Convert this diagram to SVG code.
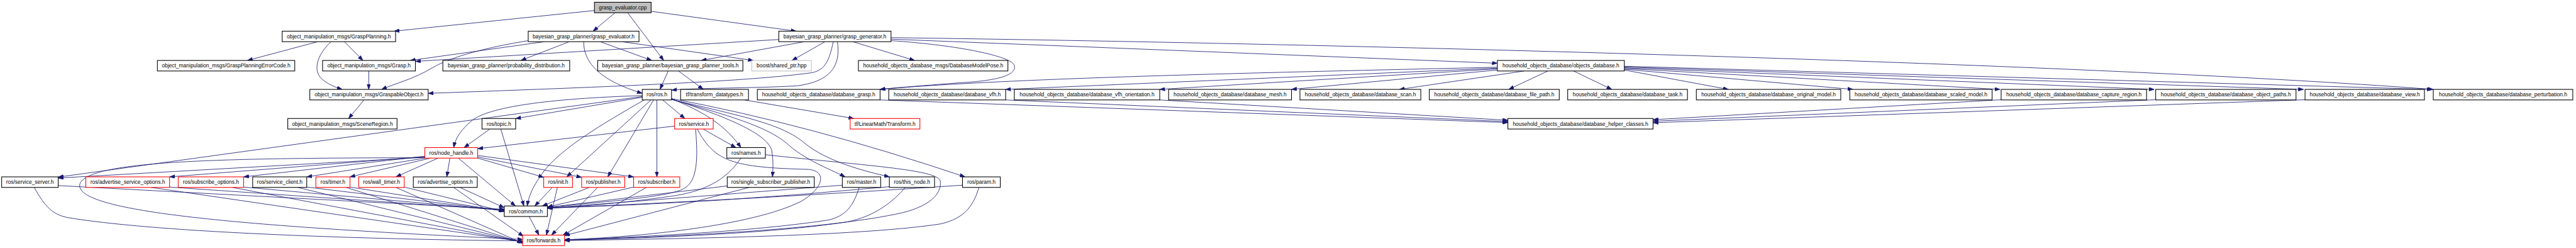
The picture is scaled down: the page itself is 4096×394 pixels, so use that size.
<svg xmlns="http://www.w3.org/2000/svg" width="4096" height="394" viewBox="0 0 4096 394">
<style>
.node rect{fill:#fff;stroke:#000;stroke-width:1.8}
.red rect{stroke:#f00}
.gray rect{stroke:#bfbfbf}
.root rect{fill:#bfbfbf}
.node text{font-family:"Liberation Sans",Arial,Helvetica,sans-serif;font-size:14.15px;text-anchor:middle;fill:#000}
#edges path{fill:none;stroke:#191970;stroke-width:1.4;marker-end:url(#arr)}
</style>
<defs>
<marker id="arr" markerUnits="userSpaceOnUse" markerWidth="14" markerHeight="10" viewBox="0 0 14 10" refX="14" refY="5" orient="auto">
<path d="M0,0 L14,5 L0,10 Z" fill="#191970" stroke="#191970" stroke-width="1"/>
</marker>
</defs>
<rect width="4096" height="394" fill="#fff"/>
<g transform="scale(0.598)">
<g id="edges">
<path d="M1580.6,28 L1048,82.8"/>
<path d="M1635.5,33.9 L1577,82.8"/>
<path d="M1668.9,33.9 L1764.7,160.6"/>
<path d="M1731.3,30 L2117,82.8"/>
<path d="M844.7,110.8 L658,160.6"/>
<path d="M915.8,110.8 L965,160.6"/>
<path d="M880.2,110.8 C848,140 828,185 856,210 C872,224 892,232 910,237.5"/>
<path d="M1447.9,110.8 L1091,160.6"/>
<path d="M1404.5,108 C1300,125 1200,150 1150,180 C1100,210 1050,222 1014.6,237.5"/>
<path d="M1513.7,110.8 L1385,160.6"/>
<path d="M1596,110.8 L1733,160.6"/>
<path d="M1653.5,110.8 L2003,160.6"/>
<path d="M1552,110.8 C1552,170 1600,215 1707.7,248"/>
<path d="M2070.8,105 L1104.5,163"/>
<path d="M2138.8,110.8 L1864.6,160.6"/>
<path d="M2193.7,110.8 L2105.9,160.6"/>
<path d="M2267.7,110.8 L2432,160.6"/>
<path d="M2215.6,110.8 C2205,160 2195,185 2160,193 C2000,215 1700,228 1138.5,248"/>
<path d="M2226.6,110.8 C2235,170 2215,215 2120,228 C2000,235 1850,233 1785.6,239.5"/>
<path d="M2369.2,108 C2550,120 2690,150 2697,173.6 C2705,200 2650,215 2550,220 C2450,228 2380,233 2340,237.5"/>
<path d="M2369.2,104 L3981.4,168"/>
<path d="M2369.2,100 C3500,115 5500,165 6470,237.5"/>
<path d="M3981.4,178.6 C3500,190 2700,205 2340,237.5"/>
<path d="M3981.4,181 L2674,237.5"/>
<path d="M3981.4,183 L3083.7,237.5"/>
<path d="M3981.4,186 L3434,237.5"/>
<path d="M4052.7,188.6 L3721,237.5"/>
<path d="M4115.8,188.6 L4011.6,237.5"/>
<path d="M4184,188.6 L4285.7,237.5"/>
<path d="M4319.1,186 L4595.6,237.5"/>
<path d="M4319.1,184 L4927,237.5"/>
<path d="M4319.1,182 L5318,237.5"/>
<path d="M4319.1,180 L5728,237.5"/>
<path d="M4319.1,178 L6125,237.5"/>
<path d="M4319.1,176 L6467,237.5"/>
<path d="M2340.1,265.5 L4009.4,325.7"/>
<path d="M2674,265.5 L4009.4,323"/>
<path d="M3083.7,265.5 L4009.4,319.5"/>
<path d="M5321,265 L4395.4,318"/>
<path d="M5731.9,265 L4395.4,322"/>
<path d="M6129,265 L4395.4,326"/>
<path d="M1979.7,265.5 L2270.4,314.8"/>
<path d="M1804.2,188.6 L1870,237.5"/>
<path d="M1776.8,188.6 L1754.9,237.5"/>
<path d="M967.9,265.5 L926.8,314.8"/>
<path d="M980.5,188.6 L980.5,237.5"/>
<path d="M1707.7,254 C1450,262 1300,285 1255,320 C1220,350 1210,372 1206.5,392.1"/>
<path d="M1707.7,256.4 L154.7,470.5"/>
<path d="M1707.7,258.5 L1371.1,315"/>
<path d="M1713,265.5 C1600,330 1500,390 1450,450 C1415,495 1405,525 1402,547.2"/>
<path d="M1731,265.5 L1507,469.9"/>
<path d="M1738,265.5 L1616,469.9"/>
<path d="M1746.6,265.5 L1746.6,469.9"/>
<path d="M1762,265.5 L1821,314.8"/>
<path d="M1785.6,262 C1850,290 1920,320 1970,392.1"/>
<path d="M1785.6,263 C1900,300 2040,350 2052,400 C2057,430 2055,450 2054,469.9"/>
<path d="M1785.6,264 C1950,310 2050,340 2100,388 C2150,430 2220,455 2247,469.9"/>
<path d="M1785.6,264.5 C1980,310 2080,330 2139,380 C2200,430 2300,455 2365,469.9"/>
<path d="M1785.6,262 Q2150,330 2566,469.9"/>
<path d="M1793.8,335 L1270.1,395"/>
<path d="M1869.6,342.8 L1956.7,392.1"/>
<path d="M1849.5,342.8 C1856,420 1855,480 1820,500 C1780,525 1600,535 1455.5,552"/>
<path d="M1854,342.8 C1900,430 1950,445 2150,450 C2200,455 2190,500 2130,535 C2000,600 1700,630 1501.1,637"/>
<path d="M1970,420.1 C1930,480 1870,510 1780,522 C1650,540 1550,548 1455.5,553"/>
<path d="M2035.1,411 C2300,440 2490,450 2500,480 C2505,510 2480,545 2400,565 C2200,610 1800,628 1501.1,638"/>
<path d="M1933.7,494 L1455.5,551"/>
<path d="M1992,497.9 L1501.1,626"/>
<path d="M2239.7,492 L1455.5,553"/>
<path d="M2284.5,497.9 C2270,545 2250,575 2200,585 C2000,615 1700,630 1501.1,637"/>
<path d="M2364.8,496 Q1900,540 1455.5,553"/>
<path d="M2407,497.9 C2380,530 2330,575 2250,590 C2050,620 1750,632 1501.1,638"/>
<path d="M2559.3,492 Q2000,530 1455.5,553"/>
<path d="M2603,497.9 C2590,540 2570,580 2500,595 C2300,625 1900,633 1501.1,639"/>
<path d="M1685,497 L1455.5,550"/>
<path d="M1718.7,497.9 L1497,624.6"/>
<path d="M1567,497.9 L1442,547.2"/>
<path d="M1589,497.9 L1466.5,624.6"/>
<path d="M1468.7,497.9 L1422,547.2"/>
<path d="M1482,497.9 L1453,624.6"/>
<path d="M1407,575.2 L1433,624.6"/>
<path d="M1302.5,342.8 L1234,392.1"/>
<path d="M1331.6,342.8 L1393,547.2"/>
<path d="M1129.7,418 L154.7,473"/>
<path d="M1129.7,419 C600,420 230,425 212,490 C200,560 600,600 1389.7,636"/>
<path d="M1129.7,416 L450.9,470"/>
<path d="M1129.7,415 L647.8,470"/>
<path d="M1131,420.1 L815.6,470"/>
<path d="M1145,420.1 L930.6,470"/>
<path d="M1164.7,420.1 L1052.8,469.9"/>
<path d="M1196.3,420.1 L1188,469.9"/>
<path d="M1218.6,420.1 L1370.5,547.2"/>
<path d="M1270.1,420 L1445.7,471"/>
<path d="M1270.1,417 L1546.6,471"/>
<path d="M1270.1,413 L1684.8,470"/>
<path d="M154.7,493 L1340.9,556"/>
<path d="M91,497.9 C120,550 140,570 180,578 C400,615 900,635 1389.7,640"/>
<path d="M450.9,497 L1340.9,558"/>
<path d="M402,497.9 L1389.7,642"/>
<path d="M647.8,497 L1340.9,559"/>
<path d="M617.6,497.9 L1389.7,643"/>
<path d="M815.6,497 L1340.9,560"/>
<path d="M791.7,497.9 L1389.7,644"/>
<path d="M930.6,497 L1340.9,561"/>
<path d="M920,497.9 L1389.7,645"/>
<path d="M1074.9,497 L1340.9,562"/>
<path d="M1052.8,497.9 L1389.7,646"/>
<path d="M1222.8,497.9 L1340.9,552"/>
<path d="M1206,497.9 L1392,628"/>
</g>
<g id="n0" class="node root"><rect x="1580.6" y="5.9" width="150.7" height="28"/><text x="1656" y="24.9">grasp_evaluator.cpp</text></g>
<g id="n1" class="node"><rect x="750.3" y="82.8" width="301.5" height="28"/><text x="901" y="101.8">object_manipulation_msgs/GraspPlanning.h</text></g>
<g id="n2" class="node"><rect x="1404.5" y="82.8" width="294.6" height="28"/><text x="1551.8" y="101.8">bayesian_grasp_planner/grasp_evaluator.h</text></g>
<g id="n3" class="node"><rect x="2070.8" y="82.8" width="298.4" height="28"/><text x="2220" y="101.8">bayesian_grasp_planner/grasp_generator.h</text></g>
<g id="n4" class="node"><rect x="418.5" y="160.6" width="365.3" height="28"/><text x="601.2" y="179.6">object_manipulation_msgs/GraspPlanningErrorCode.h</text></g>
<g id="n5" class="node"><rect x="857.7" y="160.6" width="246.8" height="28"/><text x="981.1" y="179.6">object_manipulation_msgs/Grasp.h</text></g>
<g id="n6" class="node"><rect x="1177.5" y="160.6" width="337.3" height="28"/><text x="1346.2" y="179.6">bayesian_grasp_planner/probability_distribution.h</text></g>
<g id="n7" class="node"><rect x="1589.4" y="160.6" width="385.9" height="28"/><text x="1782.4" y="179.6">bayesian_grasp_planner/bayesian_grasp_planner_tools.h</text></g>
<g id="n8" class="node gray"><rect x="1998.9" y="160.6" width="158.5" height="28"/><text x="2078.2" y="179.6">boost/shared_ptr.hpp</text></g>
<g id="n9" class="node"><rect x="2282.5" y="160.6" width="397.5" height="28"/><text x="2481.3" y="179.6">household_objects_database_msgs/DatabaseModelPose.h</text></g>
<g id="n10" class="node"><rect x="3981.4" y="160.6" width="337.7" height="28"/><text x="4150.3" y="179.6">household_objects_database/objects_database.h</text></g>
<g id="n11" class="node"><rect x="823.8" y="237.5" width="314.7" height="28"/><text x="981.2" y="256.5">object_manipulation_msgs/GraspableObject.h</text></g>
<g id="n12" class="node"><rect x="1707.7" y="237.5" width="77.9" height="28"/><text x="1746.7" y="256.5">ros/ros.h</text></g>
<g id="n13" class="node"><rect x="1809.7" y="237.5" width="180.5" height="28"/><text x="1900" y="256.5">tf/transform_datatypes.h</text></g>
<g id="n14" class="node"><rect x="2013.7" y="237.5" width="326.4" height="28"/><text x="2176.9" y="256.5">household_objects_database/database_grasp.h</text></g>
<g id="n15" class="node"><rect x="2363.1" y="237.5" width="310.9" height="28"/><text x="2518.6" y="256.5">household_objects_database/database_vfh.h</text></g>
<g id="n16" class="node"><rect x="2697" y="237.5" width="386.7" height="28"/><text x="2890.4" y="256.5">household_objects_database/database_vfh_orientation.h</text></g>
<g id="n17" class="node"><rect x="3107.3" y="237.5" width="326.7" height="28"/><text x="3270.7" y="256.5">household_objects_database/database_mesh.h</text></g>
<g id="n18" class="node"><rect x="3456.5" y="237.5" width="321.4" height="28"/><text x="3617.2" y="256.5">household_objects_database/database_scan.h</text></g>
<g id="n19" class="node"><rect x="3800.4" y="237.5" width="345.6" height="28"/><text x="3973.2" y="256.5">household_objects_database/database_file_path.h</text></g>
<g id="n20" class="node"><rect x="4168.4" y="237.5" width="318.5" height="28"/><text x="4327.7" y="256.5">household_objects_database/database_task.h</text></g>
<g id="n21" class="node"><rect x="4510.5" y="237.5" width="384" height="28"/><text x="4702.5" y="256.5">household_objects_database/database_original_model.h</text></g>
<g id="n22" class="node"><rect x="4918.6" y="237.5" width="378.3" height="28"/><text x="5107.8" y="256.5">household_objects_database/database_scaled_model.h</text></g>
<g id="n23" class="node"><rect x="5321" y="237.5" width="386.7" height="28"/><text x="5514.4" y="256.5">household_objects_database/database_capture_region.h</text></g>
<g id="n24" class="node"><rect x="5731.9" y="237.5" width="373.1" height="28"/><text x="5918.5" y="256.5">household_objects_database/database_object_paths.h</text></g>
<g id="n25" class="node"><rect x="6129" y="237.5" width="317.5" height="28"/><text x="6287.8" y="256.5">household_objects_database/database_view.h</text></g>
<g id="n26" class="node"><rect x="6470" y="237.5" width="371" height="28"/><text x="6655.5" y="256.5">household_objects_database/database_perturbation.h</text></g>
<g id="n27" class="node"><rect x="765.2" y="314.8" width="290.5" height="28"/><text x="910.5" y="333.8">object_manipulation_msgs/SceneRegion.h</text></g>
<g id="n28" class="node"><rect x="1281.7" y="314.8" width="89.4" height="28"/><text x="1326.4" y="333.8">ros/topic.h</text></g>
<g id="n29" class="node red"><rect x="1793.8" y="314.8" width="102.6" height="28"/><text x="1845.1" y="333.8">ros/service.h</text></g>
<g id="n30" class="node red"><rect x="2260.6" y="314.8" width="185.4" height="28"/><text x="2353.3" y="333.8">tf/LinearMath/Transform.h</text></g>
<g id="n31" class="node"><rect x="4009.4" y="314.8" width="386" height="28"/><text x="4202.4" y="333.8">household_objects_database/database_helper_classes.h</text></g>
<g id="n32" class="node red"><rect x="1129.7" y="392.1" width="140.4" height="28"/><text x="1199.9" y="411.1">ros/node_handle.h</text></g>
<g id="n33" class="node"><rect x="1932.6" y="392.1" width="102.5" height="28"/><text x="1983.9" y="411.1">ros/names.h</text></g>
<g id="n34" class="node"><rect x="4.4" y="469.9" width="150.3" height="28"/><text x="79.6" y="488.9">ros/service_server.h</text></g>
<g id="n35" class="node red"><rect x="228.2" y="469.9" width="222.7" height="28"/><text x="339.6" y="488.9">ros/advertise_service_options.h</text></g>
<g id="n36" class="node red"><rect x="473.9" y="469.9" width="173.9" height="28"/><text x="560.9" y="488.9">ros/subscribe_options.h</text></g>
<g id="n37" class="node"><rect x="671.9" y="469.9" width="143.7" height="28"/><text x="743.8" y="488.9">ros/service_client.h</text></g>
<g id="n38" class="node red"><rect x="839.8" y="469.9" width="90.8" height="28"/><text x="885.2" y="488.9">ros/timer.h</text></g>
<g id="n39" class="node red"><rect x="953.7" y="469.9" width="121.2" height="28"/><text x="1014.3" y="488.9">ros/wall_timer.h</text></g>
<g id="n40" class="node"><rect x="1099" y="469.9" width="170" height="28"/><text x="1184" y="488.9">ros/advertise_options.h</text></g>
<g id="n41" class="node red"><rect x="1445.7" y="469.9" width="76.7" height="28"/><text x="1484.1" y="488.9">ros/init.h</text></g>
<g id="n42" class="node red"><rect x="1546.6" y="469.9" width="114.6" height="28"/><text x="1603.9" y="488.9">ros/publisher.h</text></g>
<g id="n43" class="node red"><rect x="1684.8" y="469.9" width="122.7" height="28"/><text x="1746.2" y="488.9">ros/subscriber.h</text></g>
<g id="n44" class="node"><rect x="1933.7" y="469.9" width="231.4" height="28"/><text x="2049.4" y="488.9">ros/single_subscriber_publisher.h</text></g>
<g id="n45" class="node"><rect x="2239.7" y="469.9" width="102" height="28"/><text x="2290.7" y="488.9">ros/master.h</text></g>
<g id="n46" class="node"><rect x="2364.8" y="469.9" width="120.1" height="28"/><text x="2424.9" y="488.9">ros/this_node.h</text></g>
<g id="n47" class="node"><rect x="2559.3" y="469.9" width="100.4" height="28"/><text x="2609.5" y="488.9">ros/param.h</text></g>
<g id="n48" class="node"><rect x="1340.9" y="547.2" width="114.6" height="28"/><text x="1398.2" y="566.2">ros/common.h</text></g>
<g id="n49" class="node red"><rect x="1389.7" y="624.6" width="111.4" height="28"/><text x="1445.4" y="643.6">ros/forwards.h</text></g>
</g>
</svg>
